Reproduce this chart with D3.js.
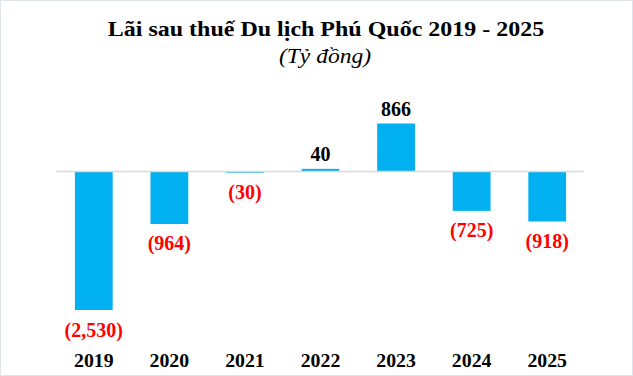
<!DOCTYPE html>
<html>
<head>
<meta charset="utf-8">
<script src="https://cdn.jsdelivr.net/npm/d3@7"></script>
<style>
  body { margin: 0; background: #fff; }
  svg { display: block; }
</style>
</head>
<body>
<script>
var width = 633
var height = 376

// data
var years = ["2019", "2020", "2021", "2022", "2023", "2024", "2025"]
var profit = [-2530, -964, -30, 40, 866, -725, -918]

var serif = "'Liberation Serif', 'Times New Roman', serif"

var svg = d3.select("body")
    .append("svg")
    .attr("width", width)
    .attr("height", height)

// light frame around the picture
svg.append("rect")
    .attr("x", 0.5).attr("y", 0.5)
    .attr("width", width - 1).attr("height", height - 1)
    .attr("fill", "#fff")
    .attr("stroke", "#dfe3ea")

// the original is a bit wider than the font, stretch text a little
function widen(sel, k) {
    sel.each(function () {
        var w = this.getComputedTextLength()
        d3.select(this)
            .attr("textLength", w * k)
            .attr("lengthAdjust", "spacingAndGlyphs")
    })
}

svg.append("text")
    .attr("x", 326).attr("y", 36)
    .attr("text-anchor", "middle")
    .style("font-family", serif)
    .style("font-weight", "bold")
    .style("font-size", "22px")
    .text("Lãi sau thuế Du lịch Phú Quốc 2019 - 2025")
    .call(widen, 1.09)

svg.append("text")
    .attr("x", 325).attr("y", 63)
    .attr("text-anchor", "middle")
    .style("font-family", serif)
    .style("font-style", "italic")
    .style("font-size", "21px")
    .text("(Tỷ đồng)")
    .call(widen, 1.12)

var x_scale = d3.scaleBand()
    .domain(years)
    .range([56, 585])
    .paddingInner(0.5)
    .paddingOuter(0.25)

var y_scale = d3.scaleLinear()
    .domain([-2530, 866])
    .range([310, 123.5])

var fmt = d3.format(",")

var data = years.map((y, i) => ({year: y, value: profit[i]}))

svg.selectAll(".bar")
    .data(data)
    .enter()
    .append("rect")
    .attr("class", "bar")
    .attr("x", (d) => x_scale(d.year))
    .attr("width", x_scale.bandwidth())
    .attr("y", (d) => y_scale(Math.max(0, d.value)))
    .attr("height", (d) => Math.abs(y_scale(d.value) - y_scale(0)))
    .attr("fill", "#00b0f0")

// zero line
svg.append("line")
    .attr("x1", 56).attr("x2", 584)
    .attr("y1", y_scale(0) + 0.5).attr("y2", y_scale(0) + 0.5)
    .attr("stroke", "#d9d9d9")
    .attr("stroke-width", 1.5)

svg.selectAll(".lbl")
    .data(data)
    .enter()
    .append("text")
    .attr("class", "lbl")
    .attr("x", (d) => x_scale(d.year) + x_scale.bandwidth() / 2)
    .attr("y", (d) => d.value < 0 ? y_scale(d.value) + 26.5 : y_scale(d.value) - 8)
    .attr("text-anchor", "middle")
    .style("font-family", serif)
    .style("font-weight", "bold")
    .style("font-size", "20px")
    .attr("fill", (d) => d.value < 0 ? "#ff0000" : "#000")
    .text((d) => d.value < 0 ? "(" + fmt(-d.value) + ")" : fmt(d.value))

var x_axis = d3.axisBottom(x_scale).tickSize(0).tickPadding(0)

var gx = svg.append("g")
    .attr("transform", "translate(0,367)")
    .call(x_axis)
gx.select(".domain").remove()
gx.selectAll("text")
    .attr("y", 0)
    .attr("dy", null)
    .style("font-family", serif)
    .style("font-weight", "bold")
    .style("font-size", "18px")
    .attr("fill", "#000")
    .call(widen, 1.1)
</script>
</body>
</html>
